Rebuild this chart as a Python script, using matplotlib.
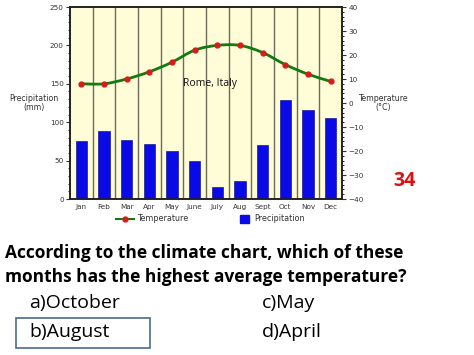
import matplotlib
matplotlib.use("Agg")
import matplotlib.pyplot as plt
from matplotlib.patches import Rectangle, PathPatch
from matplotlib.path import Path
from matplotlib.lines import Line2D
from matplotlib.ticker import MultipleLocator
import numpy as np

months = ["Jan", "Feb", "Mar", "Apr", "May", "June", "July", "Aug", "Sept", "Oct", "Nov", "Dec"]
precipitation = [76, 88, 77, 72, 63, 49, 15, 23, 70, 129, 116, 106]
temperature = [8, 8, 10, 13, 17, 22, 24, 24, 21, 16, 12, 9]
precip_ticks = [0, 50, 100, 150, 200, 250]
temp_ticks = [-40, -30, -20, -10, 0, 10, 20, 30, 40]

fig = plt.figure(figsize=(4.74, 3.55), dpi=100)
fig.patch.set_facecolor("white")
ax = fig.add_axes([70/474, 1-199/355, 272/474, 192/355])
ax.set_facecolor("#fffcd8")
x = np.arange(len(months))
ax.bar(x, precipitation, width=0.5, color="#0a0ae6", edgecolor="#000080", linewidth=0.4, zorder=3)
for b in np.arange(0.5, len(months) - 1, 1):
    ax.axvline(b, color="#6e6b5c", lw=1.0, zorder=1)
ax.set_xlim(-0.5, len(months) - 0.5)
ax.set_ylim(0, 250)
ax.set_yticks(precip_ticks)
ax.yaxis.set_minor_locator(MultipleLocator(10))
ax.set_xticks(x)
ax.set_xticklabels(months)
ax.tick_params(axis="both", labelsize=5.2, length=3, width=0.8, pad=1.5, colors="#333333")
ax.tick_params(axis="x", length=0, pad=3.5)
ax.tick_params(axis="y", which="minor", length=1.5, width=0.6)
for s in ax.spines.values():
    s.set_linewidth(1.2)
    s.set_color("#222222")

ax2 = ax.twinx()
ax2.set_ylim(-40, 40)
ax2.set_yticks(temp_ticks)
ax2.yaxis.set_minor_locator(MultipleLocator(2))
ax2.tick_params(axis="y", labelsize=5.2, length=3, width=0.8, pad=1.5, colors="#333333")
ax2.tick_params(axis="y", which="minor", length=1.5, width=0.6)
for s in ax2.spines.values():
    s.set_linewidth(1.2)
    s.set_color("#222222")

# smooth (Catmull-Rom style) curve through the temperature points
pts = np.column_stack([x, temperature]).astype(float)
verts = [tuple(pts[0])]
codes = [Path.MOVETO]
n = len(pts)
for i in range(n - 1):
    p0 = pts[i - 1] if i > 0 else pts[i]
    p1 = pts[i]
    p2 = pts[i + 1]
    p3 = pts[i + 2] if i + 2 < n else pts[i + 1]
    c1 = p1 + (p2 - p0) / 6.0
    c2 = p2 - (p3 - p1) / 6.0
    verts += [tuple(c1), tuple(c2), tuple(p2)]
    codes += [Path.CURVE4] * 3
ax2.add_patch(PathPatch(Path(verts, codes), facecolor="none", edgecolor="#117a11", lw=2.0, zorder=4))
ax2.plot(x, temperature, "o", color="#d91a1a", ms=3.5, zorder=5)

ax.text(0.415, 0.6, "Rome, Italy", transform=ax.transAxes, fontsize=7.5, family="Open Sans", ha="left", va="center", color="#111111", zorder=6)
fig.text(34/474, 1-103/355, "Precipitation\n(mm)", fontsize=5.7, ha="center", va="center", color="#333333", linespacing=1.0)
fig.text(383/474, 1-103/355, "Temperature\n(°C)", fontsize=5.7, ha="center", va="center", color="#333333", linespacing=1.0)
fig.text(404/474, 1-181/355, "34", fontsize=14, fontweight="bold", color="#dd1111", ha="center", va="center", family="Open Sans")

# legend
fig.add_artist(Line2D([116/474, 134/474], [1-219/355, 1-219/355], color="#117a11", lw=1.5))
fig.add_artist(Line2D([125/474], [1-219/355], marker="o", color="#d91a1a", ms=3.5))
fig.text(137/474, 1-219/355, "Temperature", fontsize=5.8, va="center", color="#333333")
fig.add_artist(Rectangle((240/474, 1-223/355), 9/474, 8/355, color="#0a0ae6"))
fig.text(254/474, 1-219/355, "Precipitation", fontsize=5.8, va="center", color="#333333")

qfont = "Open Sans"
fig.text(5/474, 1-253/355, "According to the climate chart, which of these", fontsize=12.5, fontweight="bold", family=qfont, va="center")
fig.text(5/474, 1-277/355, "months has the highest average temperature?", fontsize=12.5, fontweight="bold", family=qfont, va="center")
fig.text(29/474, 1-303/355, "a)October", fontsize=14, family=qfont, va="center")
fig.text(262/474, 1-303/355, "c)May", fontsize=14, family=qfont, va="center")
fig.text(29/474, 1-332/355, "b)August", fontsize=14, family=qfont, va="center")
fig.text(262/474, 1-332/355, "d)April", fontsize=14, family=qfont, va="center")
fig.add_artist(Rectangle((16/474, 1-348/355), 134/474, 30/355, fill=False, edgecolor="#4a6b8a", lw=1.2))

fig.savefig("out.png", dpi=100)
